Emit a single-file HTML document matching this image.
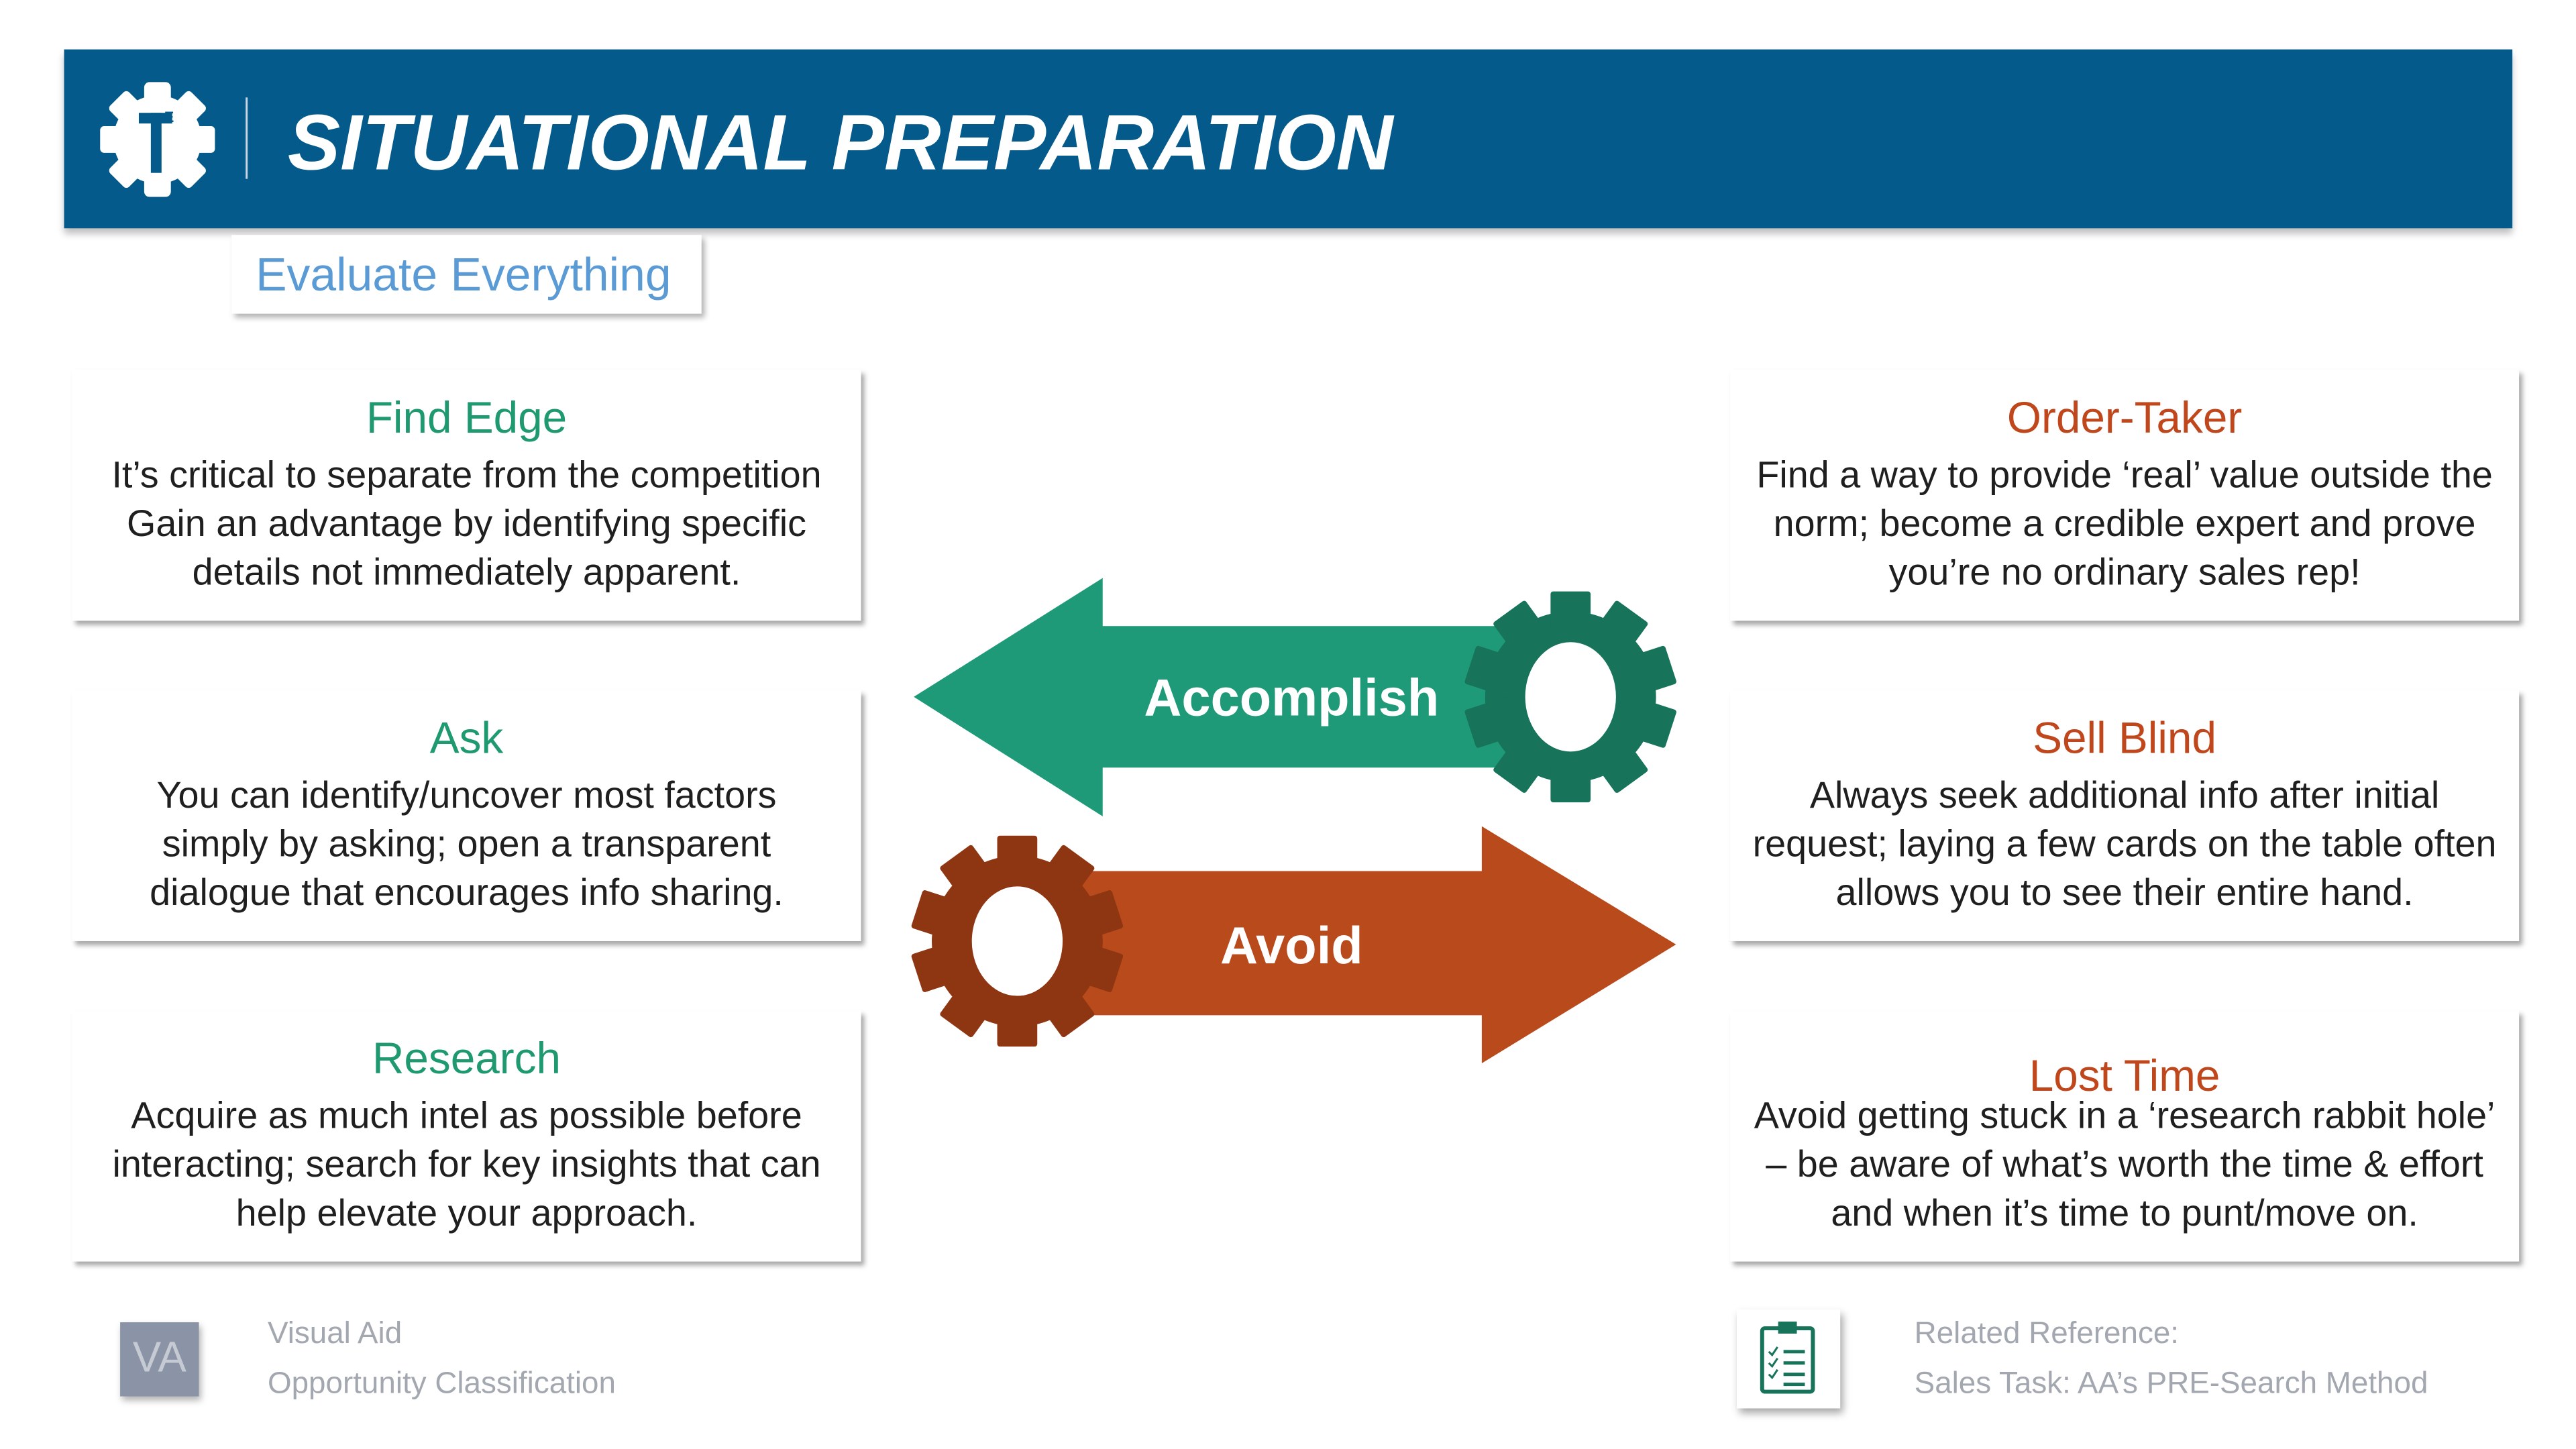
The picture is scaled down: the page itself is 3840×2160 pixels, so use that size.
<!DOCTYPE html>
<html><head><meta charset="utf-8"><style>
html,body{margin:0;padding:0;background:#fff;}
body{width:3840px;height:2160px;position:relative;overflow:hidden;font-family:"Liberation Sans",sans-serif;}
#w{position:absolute;left:0;top:0;width:3840px;height:2160px;transform:scale(0.995);transform-origin:0 0;}
.hdr{position:absolute;left:96px;top:74px;width:3668px;height:268px;background:#045a8b;box-shadow:0 8px 10px rgba(0,0,0,0.25);}
.ev{position:absolute;left:347px;top:352px;width:704px;height:118px;background:#fff;box-shadow:5px 6px 8px rgba(0,0,0,0.3);color:#5b9bd5;font-size:70px;line-height:118px;box-sizing:border-box;padding-left:36px;white-space:nowrap;}
.card{position:absolute;width:1182px;height:376px;background:#fff;box-shadow:5px 6px 7px rgba(0,0,0,0.35);text-align:center;color:#1f1f1f;}
.card .t{position:absolute;left:0;right:0;top:36px;font-size:66px;line-height:70px;}
.card .b{position:absolute;left:-20px;right:-20px;top:120px;font-size:56px;line-height:73px;white-space:nowrap;}
.g{color:#1f9a70}.o{color:#c0461b}
.ft{position:absolute;color:#a3a7af;font-size:46px;line-height:50px;}
</style></head><body><div id="w">
<div class="hdr">
<svg width="3668" height="268" style="position:absolute;left:0;top:0">
 <g transform="translate(140,135)" fill="#fff">
  <circle r="66"/>
  <rect x="-20" y="-86" width="40" height="172" rx="8"/>
  <rect x="-20" y="-86" width="40" height="172" rx="6" transform="rotate(45)"/>
  <rect x="-20" y="-86" width="40" height="172" rx="6" transform="rotate(90)"/>
  <rect x="-20" y="-86" width="40" height="172" rx="6" transform="rotate(135)"/>
  <rect x="-28" y="-40" width="50" height="16" fill="#045a8b"/>
  <rect x="-10" y="-40" width="16" height="90" fill="#045a8b"/>
  <text x="10" y="-26" font-size="22" font-family="Liberation Sans" font-weight="bold" fill="#045a8b">E</text>
 </g>
 <rect x="272" y="72" width="3" height="122" fill="#c9d6e3"/>
 <text x="335" y="180" font-size="118" font-weight="bold" font-style="italic" fill="#fff" textLength="1656" lengthAdjust="spacingAndGlyphs" font-family="Liberation Sans">SITUATIONAL PREPARATION</text>
</svg>
</div>
<div class="ev">Evaluate Everything</div>

<div class="card" style="left:108px;top:554px"><div class="t g">Find Edge</div><div class="b">It’s critical to separate from the competition<br>Gain an advantage by identifying specific<br>details not immediately apparent.</div></div>
<div class="card" style="left:108px;top:1034px"><div class="t g">Ask</div><div class="b">You can identify/uncover most factors<br>simply by asking; open a transparent<br>dialogue that encourages info sharing.</div></div>
<div class="card" style="left:108px;top:1514px"><div class="t g">Research</div><div class="b">Acquire as much intel as possible before<br>interacting; search for key insights that can<br>help elevate your approach.</div></div>
<div class="card" style="left:2592px;top:554px"><div class="t o">Order-Taker</div><div class="b">Find a way to provide ‘real’ value outside the<br>norm; become a credible expert and prove<br>you’re no ordinary sales rep!</div></div>
<div class="card" style="left:2592px;top:1034px"><div class="t o">Sell Blind</div><div class="b">Always seek additional info after initial<br>request; laying a few cards on the table often<br>allows you to see their entire hand.</div></div>
<div class="card" style="left:2592px;top:1514px"><div class="t o" style="top:62px">Lost Time</div><div class="b">Avoid getting stuck in a ‘research rabbit hole’<br>– be aware of what’s worth the time &amp; effort<br>and when it’s time to punt/move on.</div></div>

<svg width="3840" height="2160" style="position:absolute;left:0;top:0">
 <defs>
  <g id="gear">
   <circle r="128"/>
   <rect x="-30" y="-158" width="60" height="316" rx="4"/>
   <rect x="-30" y="-158" width="60" height="316" rx="4" transform="rotate(36)"/>
   <rect x="-30" y="-158" width="60" height="316" rx="4" transform="rotate(72)"/>
   <rect x="-30" y="-158" width="60" height="316" rx="4" transform="rotate(108)"/>
   <rect x="-30" y="-158" width="60" height="316" rx="4" transform="rotate(144)"/>
  </g>
 </defs>
 <polygon points="1369,1044 1652,866 1652,938 2300,938 2300,1150 1652,1150 1652,1223" fill="#1e9a78"/>
 <g fill="#17735a" transform="translate(2353,1044)"><use href="#gear"/><ellipse rx="68" ry="82" fill="#fff"/></g>
 <text x="1935" y="1072" font-size="78" font-weight="bold" fill="#fff" text-anchor="middle" font-family="Liberation Sans">Accomplish</text>

 <polygon points="1560,1305 2220,1305 2220,1238 2511,1415 2220,1593 2220,1521 1560,1521" fill="#b94a1b"/>
 <g fill="#8e3612" transform="translate(1524,1410)"><use href="#gear"/><ellipse rx="68" ry="82" fill="#fff"/></g>
 <text x="1935" y="1443" font-size="78" font-weight="bold" fill="#fff" text-anchor="middle" font-family="Liberation Sans">Avoid</text>

 <rect x="180" y="1981" width="118" height="111" fill="#8a94a6" style="filter:drop-shadow(3px 6px 5px rgba(0,0,0,0.3))"/>
 <text x="239" y="2055" font-size="64" fill="#c5cad3" text-anchor="middle" font-family="Liberation Sans">VA</text>

 <rect x="2602" y="1962" width="155" height="148" fill="#fff" style="filter:drop-shadow(4px 7px 6px rgba(0,0,0,0.35))"/>
 <rect x="2640" y="1990" width="76" height="95" fill="none" stroke="#17735a" stroke-width="6" rx="4"/>
 <rect x="2664" y="1980" width="28" height="18" fill="#17735a"/>
 <g stroke="#17735a" stroke-width="5">
  <line x1="2672" y1="2025" x2="2704" y2="2025"/><line x1="2672" y1="2042" x2="2704" y2="2042"/>
  <line x1="2672" y1="2059" x2="2704" y2="2059"/><line x1="2672" y1="2074" x2="2704" y2="2074"/>
 </g>
 <g stroke="#17735a" stroke-width="3" fill="none">
  <polyline points="2650,2025 2655,2030 2663,2018"/><polyline points="2650,2042 2655,2047 2663,2035"/>
  <polyline points="2650,2059 2655,2064 2663,2052"/>
 </g>
</svg>
<div class="ft" style="left:401px;top:1971px">Visual Aid</div>
<div class="ft" style="left:401px;top:2046px">Opportunity Classification</div>
<div class="ft" style="left:2868px;top:1971px">Related Reference:</div>
<div class="ft" style="left:2868px;top:2046px">Sales Task: AA’s PRE-Search Method</div>
</div></body></html>
